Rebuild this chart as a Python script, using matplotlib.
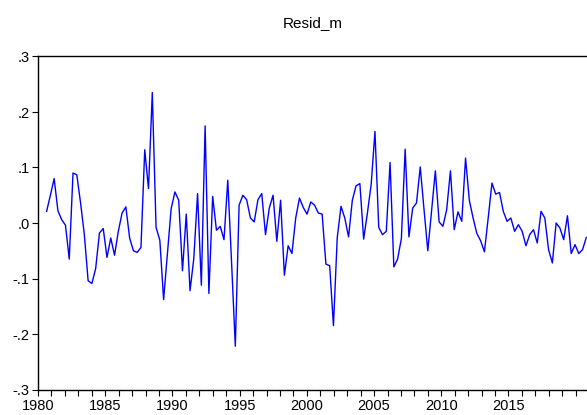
import numpy as np
import matplotlib
matplotlib.use("Agg")
import matplotlib.pyplot as plt
from matplotlib.ticker import FixedLocator

plt.rcParams["font.family"] = ["Liberation Sans", "DejaVu Sans"]

resid_m = [
    0.021, 0.050, 0.080, 0.022, 0.006, -0.004, -0.065, 0.090, 0.087, 0.036,
    -0.021, -0.104, -0.109, -0.082, -0.018, -0.010, -0.062, -0.027, -0.058, -0.015,
    0.018, 0.029, -0.027, -0.050, -0.053, -0.044, 0.132, 0.062, 0.235, -0.008,
    -0.031, -0.138, -0.055, 0.026, 0.056, 0.041, -0.086, 0.016, -0.122, -0.064,
    0.053, -0.112, 0.175, -0.127, 0.048, -0.013, -0.006, -0.030, 0.077, -0.070,
    -0.222, 0.032, 0.050, 0.042, 0.009, 0.002, 0.042, 0.053, -0.021, 0.027,
    0.050, -0.033, 0.041, -0.094, -0.041, -0.055, 0.009, 0.045, 0.028, 0.016,
    0.038, 0.032, 0.018, 0.016, -0.074, -0.077, -0.185, -0.027, 0.030, 0.009,
    -0.025, 0.041, 0.067, 0.071, -0.029, 0.018, 0.070, 0.165, -0.008, -0.021,
    -0.015, 0.109, -0.079, -0.065, -0.028, 0.133, -0.025, 0.027, 0.036, 0.101,
    0.024, -0.050, 0.021, 0.094, 0.002, -0.006, 0.024, 0.094, -0.012, 0.020,
    0.003, 0.117, 0.041, 0.009, -0.019, -0.032, -0.052, 0.009, 0.072, 0.052,
    0.055, 0.021, 0.003, 0.009, -0.015, -0.003, -0.015, -0.041, -0.021, -0.012,
    -0.036, 0.021, 0.009, -0.048, -0.072, 0.000, -0.009, -0.030, 0.013, -0.055,
    -0.039, -0.055, -0.048, -0.026,
]

# time axis as drawn in the picture
t_first, t_last = 1980.64, 2020.79
t = np.linspace(t_first, t_last, len(resid_m))

year_labels = [1980, 1985, 1990, 1995, 2000, 2005, 2010, 2015]
y_ticks = [-0.3, -0.2, -0.1, 0.0, 0.1, 0.2, 0.3]
y_labels = ["-.3", "-.2", "-.1", ".0", ".1", ".2", ".3"]

fig = plt.figure(figsize=(5.87, 4.15), dpi=100)
ax = fig.add_axes([38 / 587, 25.5 / 415, 1 - 38 / 587, 333 / 415])

ax.plot(t, resid_m, color="#0000ff", lw=1.0)

ax.set_xlim(1980, 2020.84)
ax.set_ylim(-0.3, 0.3)
ax.xaxis.set_major_locator(FixedLocator(year_labels))
ax.xaxis.set_minor_locator(FixedLocator(range(1980, 2021)))
ax.set_xticklabels([str(y) for y in year_labels])
ax.set_yticks(y_ticks)
ax.set_yticklabels(y_labels)

ax.tick_params(axis="both", which="both", direction="out", length=4,
               width=0.8, labelsize=10.5, colors="black")
ax.tick_params(axis="x", pad=3)
ax.tick_params(axis="y", pad=2)
ax.spines["right"].set_visible(False)
for s in ["left", "top", "bottom"]:
    ax.spines[s].set_linewidth(1.0)

ax.set_title("Resid_m", fontsize=11, pad=21)

fig.savefig("out.png", dpi=100)
